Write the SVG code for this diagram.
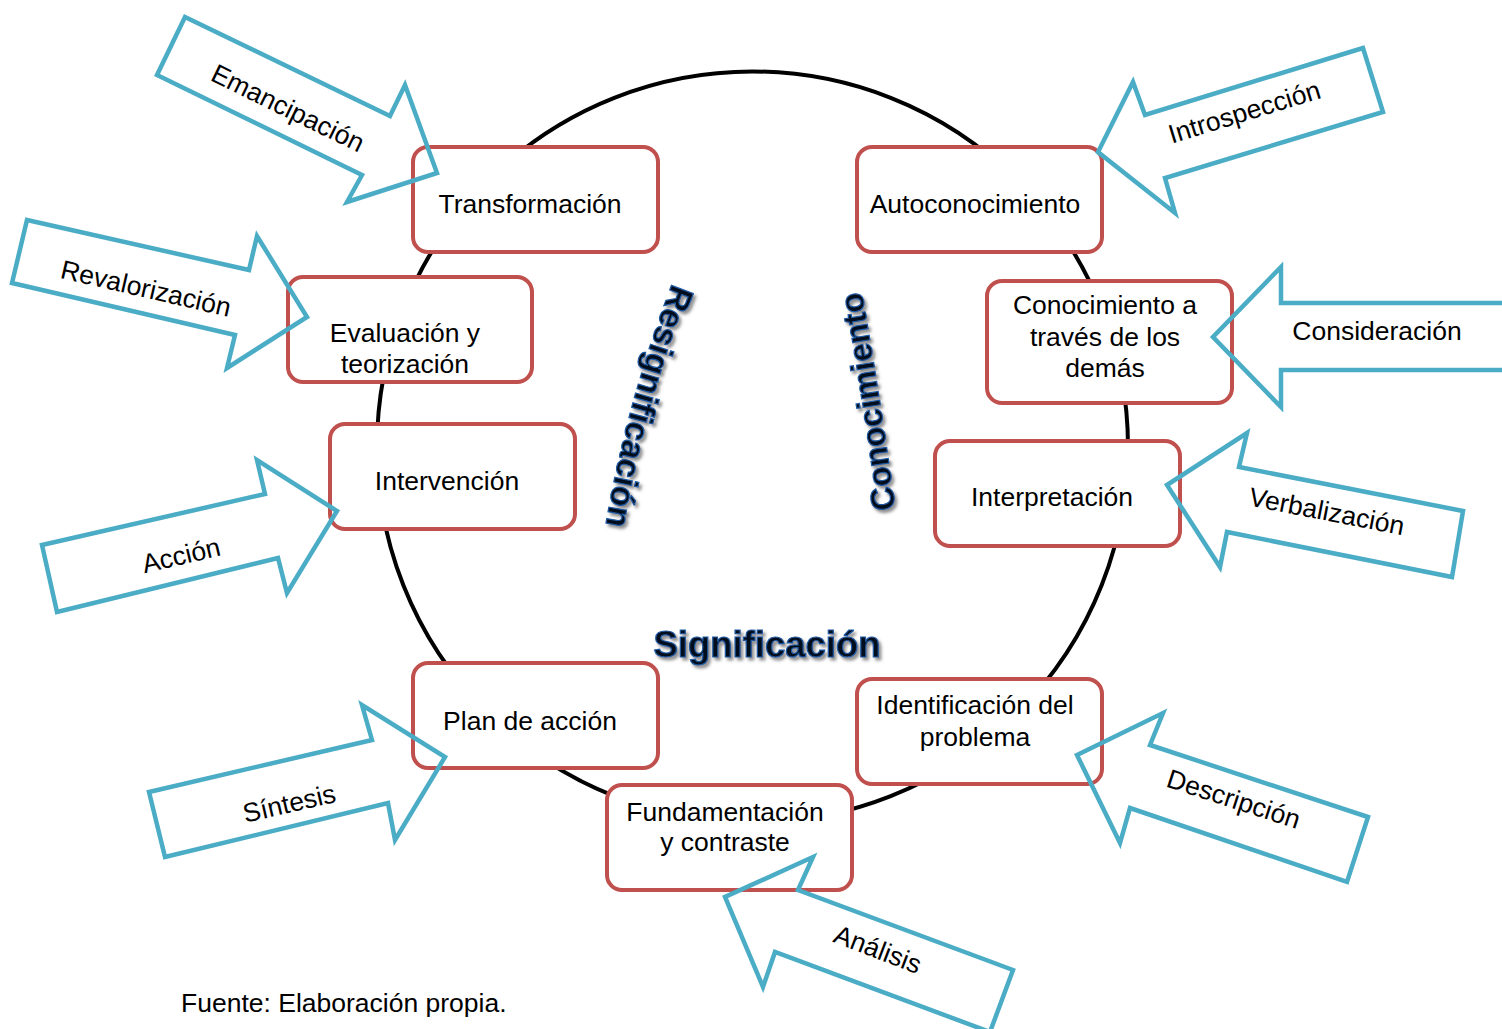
<svg xmlns="http://www.w3.org/2000/svg" width="1502" height="1029" viewBox="0 0 1502 1029">
<defs>
<style>
.box{fill:#fff;stroke:#c0504d;stroke-width:4}
.arr{fill:none;stroke:#4bacc6;stroke-width:4.5;stroke-linejoin:miter}
.t{font-family:"Liberation Sans",Arial,sans-serif;font-size:26.5px;fill:#000;text-anchor:middle}
.big{font-family:"Liberation Sans",Arial,sans-serif;font-weight:bold;fill:#050d1c;stroke:#1f5aa3;stroke-width:1.2px}
</style>
<filter id="sh" x="-20%" y="-20%" width="140%" height="140%">
<feDropShadow dx="2.5" dy="3" stdDeviation="1.8" flood-color="#555" flood-opacity="0.65"/>
</filter>
<path id="pRes" d="M676,274 Q626,400.5 604,535"/>
<path id="pCon" d="M897,520 Q881.5,406 860,280"/>
</defs>
<rect width="1502" height="1029" fill="#fff"/>
<g id="cycle">
<circle cx="752.5" cy="447" r="375.5" fill="none" stroke="#000" stroke-width="4"/>
</g>
<g id="n-transformacion"><rect class="box" x="413" y="147" width="245" height="105" rx="15"/><text class="t" x="530" y="213">Transformación</text></g>
<g id="n-autoconocimiento"><rect class="box" x="857" y="147" width="245" height="105" rx="15"/><text class="t" x="975" y="213">Autoconocimiento</text></g>
<g id="n-evaluacion"><rect class="box" x="288" y="277" width="244" height="105" rx="15"/><text class="t" x="405" y="342">Evaluación y</text><text class="t" x="405" y="373">teorización</text></g>
<g id="n-conocimiento-demas"><rect class="box" x="987" y="281" width="245" height="122" rx="15"/><text class="t" x="1105" y="314">Conocimiento a</text><text class="t" x="1105" y="346">través de los</text><text class="t" x="1105" y="377">demás</text></g>
<g id="n-intervencion"><rect class="box" x="330" y="424" width="245" height="105" rx="15"/><text class="t" x="447" y="490">Intervención</text></g>
<g id="n-interpretacion"><rect class="box" x="935" y="441" width="245" height="105" rx="15"/><text class="t" x="1052" y="506">Interpretación</text></g>
<g id="n-plan"><rect class="box" x="413" y="663" width="245" height="105" rx="15"/><text class="t" x="530" y="730">Plan de acción</text></g>
<g id="n-identificacion"><rect class="box" x="857" y="679" width="245" height="105" rx="15"/><text class="t" x="975" y="714">Identificación del</text><text class="t" x="975" y="746">problema</text></g>
<g id="n-fundamentacion"><rect class="box" x="607" y="785" width="245" height="105" rx="15"/><text class="t" x="725" y="821">Fundamentación</text><text class="t" x="725" y="851">y contraste</text></g>
<g id="connectors">
<g id="a-emancipacion"><polygon class="arr" points="185,17 390,116 405,85 437,173 347,202 362,175 157,75"/><text class="t" transform="translate(287,110) rotate(26)" y="7">Emancipación</text></g>
<g id="a-revalorizacion"><polygon class="arr" points="27,220 249,270 257,236 307,317 227,368 235,335 12,283"/><text class="t" transform="translate(146,288) rotate(13)" y="9.5">Revalorización</text></g>
<g id="a-accion"><polygon class="arr" points="42,545 265,494 257,460 337,511 287,593 278,558 57,612"/><text class="t" transform="translate(181,555) rotate(-13)" y="9.5">Acción</text></g>
<g id="a-sintesis"><polygon class="arr" points="149,792 372,740 362,705 445,757 395,840 388,803 165,857"/><text class="t" transform="translate(289,803) rotate(-13)" y="9.5">Síntesis</text></g>
<g id="a-introspeccion"><polygon class="arr" points="1363,48 1145,115 1133,82 1098,152 1175,213 1165,178 1383,112"/><text class="t" transform="translate(1245,114) rotate(-17)" y="7">Introspección</text></g>
<g id="a-consideracion"><polygon class="arr" points="1510,303 1281,303 1281,267 1213,337 1281,407 1281,370 1510,370"/><text class="t" x="1377" y="340">Consideración</text></g>
<g id="a-verbalizacion"><polygon class="arr" points="1463,511 1239,467 1247,433 1167,485 1220,567 1227,532 1452,577"/><text class="t" transform="translate(1327,511) rotate(11)" y="9.5">Verbalización</text></g>
<g id="a-descripcion"><polygon class="arr" points="1368,817 1150,745 1163,713 1077,755 1120,843 1130,808 1347,882"/><text class="t" transform="translate(1233,801) rotate(18)" y="7">Descripción</text></g>
<g id="a-analisis"><polygon class="arr" points="1013,970 798,890 813,857 725,897 763,987 775,952 990,1032"/><text class="t" transform="translate(878,949) rotate(21)" y="9.5">Análisis</text></g>
</g>
<g id="labels" filter="url(#sh)">
<text class="big" font-size="34"><textPath href="#pRes" startOffset="50%" text-anchor="middle">Resignificación</textPath></text>
<text class="big" font-size="33"><textPath href="#pCon" startOffset="50%" text-anchor="middle">Conocimiento</textPath></text>
<text class="big" font-size="36.5" x="767" y="657" text-anchor="middle">Significación</text>
</g>
<text class="t" x="181" y="1012" style="text-anchor:start">Fuente: Elaboración propia.</text>
</svg>
